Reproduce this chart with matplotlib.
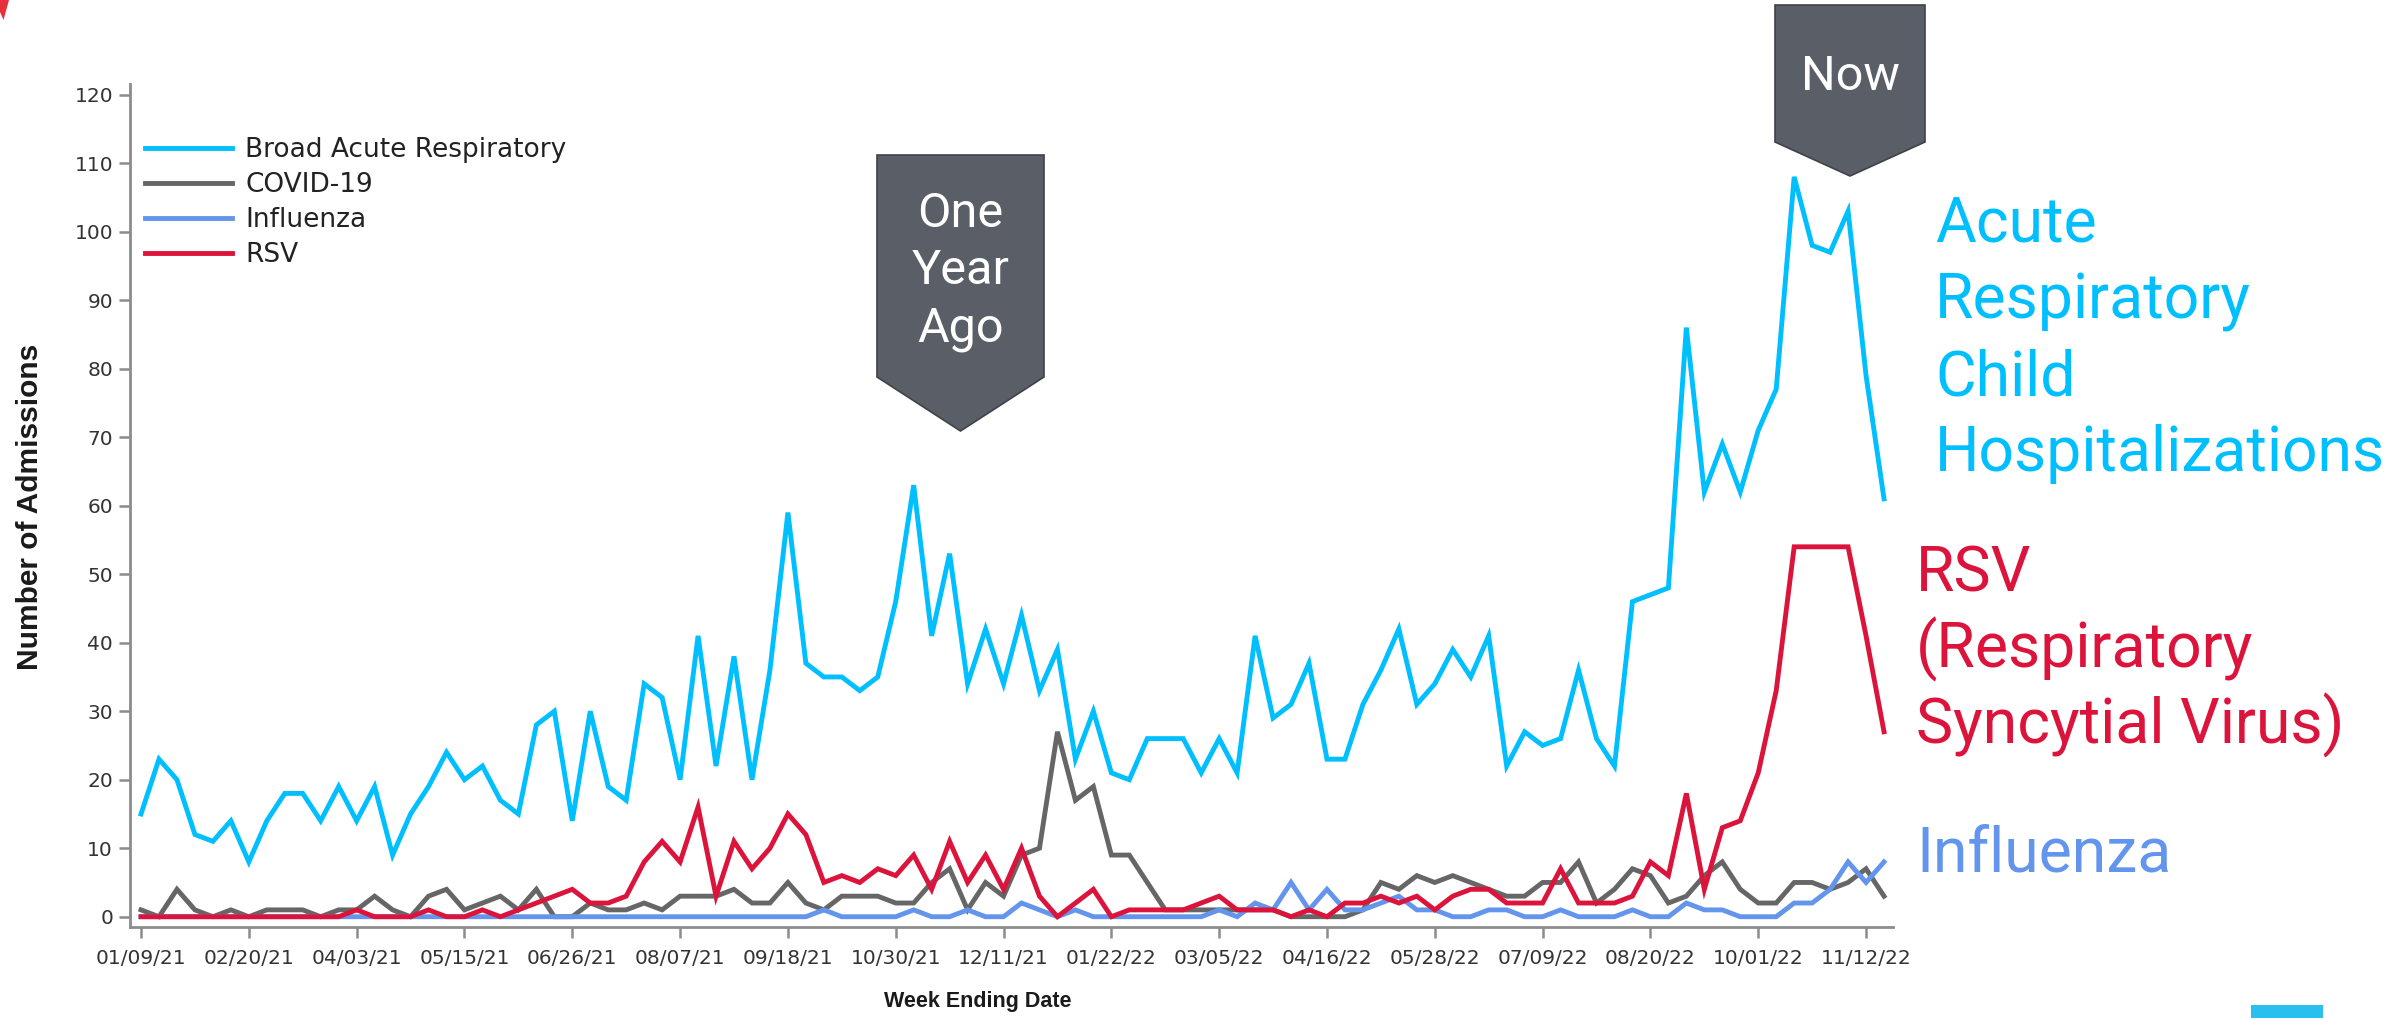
import matplotlib
matplotlib.use("Agg")
import matplotlib.pyplot as plt
from matplotlib import font_manager
from matplotlib.patches import Polygon, Rectangle
import numpy as np

W, H, DPI = 2397, 1018, 100

# Weekly admissions, week ending 01/09/21 onward
broad = [15, 23, 20, 12, 11, 14, 8, 14, 18, 18, 14, 19, 14, 19, 9, 15, 19, 24, 20, 22,
         17, 15, 28, 30, 14, 30, 19, 17, 34, 32, 20, 41, 22, 38, 20, 36, 59, 37, 35, 35,
         33, 35, 46, 63, 41, 53, 34, 42, 34, 44, 33, 39, 23, 30, 21, 20, 26, 26, 26, 21,
         26, 21, 41, 29, 31, 37, 23, 23, 31, 36, 42, 31, 34, 39, 35, 41, 22, 27, 25, 26,
         36, 26, 22, 46, 47, 48, 86, 62, 69, 62, 71, 77, 108, 98, 97, 103, 79, 61]
covid = [1, 0, 4, 1, 0, 1, 0, 1, 1, 1, 0, 1, 1, 3, 1, 0, 3, 4, 1, 2,
         3, 1, 4, 0, 0, 2, 1, 1, 2, 1, 3, 3, 3, 4, 2, 2, 5, 2, 1, 3,
         3, 3, 2, 2, 5, 7, 1, 5, 3, 9, 10, 27, 17, 19, 9, 9, 5, 1, 1, 1,
         1, 1, 1, 1, 0, 0, 0, 0, 1, 5, 4, 6, 5, 6, 5, 4, 3, 3, 5, 5,
         8, 2, 4, 7, 6, 2, 3, 6, 8, 4, 2, 2, 5, 5, 4, 5, 7, 3]
influenza = [0, 0, 0, 0, 0, 0, 0, 0, 0, 0, 0, 0, 0, 0, 0, 0, 0, 0, 0, 0,
             0, 0, 0, 0, 0, 0, 0, 0, 0, 0, 0, 0, 0, 0, 0, 0, 0, 0, 1, 0,
             0, 0, 0, 1, 0, 0, 1, 0, 0, 2, 1, 0, 1, 0, 0, 0, 0, 0, 0, 0,
             1, 0, 2, 1, 5, 1, 4, 1, 1, 2, 3, 1, 1, 0, 0, 1, 1, 0, 0, 1,
             0, 0, 0, 1, 0, 0, 2, 1, 1, 0, 0, 0, 2, 2, 4, 8, 5, 8]
rsv = [0, 0, 0, 0, 0, 0, 0, 0, 0, 0, 0, 0, 1, 0, 0, 0, 1, 0, 0, 1,
       0, 1, 2, 3, 4, 2, 2, 3, 8, 11, 8, 16, 3, 11, 7, 10, 15, 12, 5, 6,
       5, 7, 6, 9, 4, 11, 5, 9, 4, 10, 3, 0, 2, 4, 0, 1, 1, 1, 1, 2,
       3, 1, 1, 1, 0, 1, 0, 2, 2, 3, 2, 3, 1, 3, 4, 4, 2, 2, 2, 7,
       2, 2, 2, 3, 8, 6, 18, 4, 13, 14, 21, 33, 54, 54, 54, 54, 41, 27]

tick_labels = ["01/09/21", "02/20/21", "04/03/21", "05/15/21", "06/26/21", "08/07/21",
               "09/18/21", "10/30/21", "12/11/21", "01/22/22", "03/05/22", "04/16/22",
               "05/28/22", "07/09/22", "08/20/22", "10/01/22", "11/12/22"]

series = [
    ("Broad Acute Respiratory", broad, "#00bfff"),
    ("COVID-19", covid, "#666666"),
    ("Influenza", influenza, "#6495ed"),
    ("RSV", rsv, "#dc143c"),
]

installed = {f.name for f in font_manager.fontManager.ttflist}
if "Liberation Sans Narrow" in installed:
    narrow, ylab_size, xlab_size = "Liberation Sans Narrow", 24, 17.5
else:
    narrow, ylab_size, xlab_size = "Liberation Sans", 21.5, 15.5
big_font = "Roboto" if "Roboto" in installed else "DejaVu Sans"

plt.rcParams.update({
    "font.family": "DejaVu Sans",
    "axes.edgecolor": "#8c8c8c",
    "xtick.color": "#8c8c8c",
    "ytick.color": "#8c8c8c",
    "xtick.labelcolor": "#333333",
    "ytick.labelcolor": "#333333",
})


def fx(x):
    return x / W


def fy(y):
    return 1 - y / H


fig = plt.figure(figsize=(W / DPI, H / DPI), dpi=DPI)
ax = fig.add_axes([fx(129.7), fy(927), fx(1893) - fx(129.7), fy(84.4) - fy(927)])

weeks = np.arange(len(broad))
for name, vals, color in series:
    ax.plot(weeks, vals, color=color, lw=3.5, label=name, solid_joinstyle="miter")

ax.set_xlim(-0.63, 97.5)
ax.set_ylim(-1.5, 121.5)
ax.set_yticks(np.arange(0, 121, 10))
ax.set_xticks(np.arange(0, 97, 6))
ax.set_xticklabels(tick_labels)
ax.tick_params(axis="both", length=8, width=1.8, labelsize=14.5)
ax.tick_params(axis="x", pad=8)
ax.tick_params(axis="y", pad=4)
for side in ("top", "right"):
    ax.spines[side].set_visible(False)
for side in ("left", "bottom"):
    ax.spines[side].set_linewidth(2)

leg = ax.legend(loc="upper left", bbox_to_anchor=(fx(145), fy(137)), bbox_transform=fig.transFigure,
                frameon=False, fontsize=19, handlelength=3.3, handletextpad=0.5,
                labelspacing=0.34, borderpad=0, borderaxespad=0)
for t in leg.get_texts():
    t.set_color("#222222")

# axis titles
fig.text(fx(30), fy(507), "Number of Admissions", rotation=90, ha="center", va="center",
         fontsize=ylab_size, fontweight="bold", color="#1a1a1a", family=narrow)
fig.text(fx(978), fy(1001), "Week Ending Date", ha="center", va="center",
         fontsize=xlab_size, fontweight="bold", color="#1a1a1a", family=narrow)

# marker tags above the series
box_color = "#595e67"
tags = [
    (877, 1044, 155, 377, 431, ["One", "Year", "Ago"], [227, 284, 341]),
    (1775, 1925, 5, 142, 176, ["Now"], [90]),
]
for x0, x1, top, bottom, tip, lines, baselines in tags:
    xm = (x0 + x1) / 2
    pts = [(x0, top), (x1, top), (x1, bottom), (xm, tip), (x0, bottom)]
    fig.patches.append(Polygon([(fx(a), fy(b)) for a, b in pts], closed=True,
                               transform=fig.transFigure, facecolor=box_color,
                               edgecolor="#3e4249", lw=1.2))
    for line, base in zip(lines, baselines):
        fig.text(fx(xm), fy(base), line, ha="center", va="baseline", color="white",
                 fontsize=35, family=big_font)

# series names on the right
side_labels = [
    (1935, ["Acute", "Respiratory", "Child", "Hospitalizations"], [242, 318, 395, 471], "#00bfff"),
    (1916, ["RSV", "(Respiratory", "Syncytial Virus)"], [591, 667, 744], "#dc143c"),
    (1916, ["Influenza"], [872], "#6495ed"),
]
for x0, lines, baselines, color in side_labels:
    for line, base in zip(lines, baselines):
        fig.text(fx(x0), fy(base), line, ha="left", va="baseline", color=color,
                 fontsize=45, family=big_font)

# small corner marks
fig.patches.append(Polygon([(fx(0), fy(0)), (fx(9), fy(0)), (fx(3.5), fy(20)), (fx(0), fy(12))],
                           closed=True, transform=fig.transFigure, facecolor="#e8303a", lw=0))
fig.patches.append(Rectangle((fx(2251), 0), fx(2323) - fx(2251), 13 / H,
                             transform=fig.transFigure, facecolor="#29c0f0", lw=0))

fig.savefig("out.png", dpi=DPI)
